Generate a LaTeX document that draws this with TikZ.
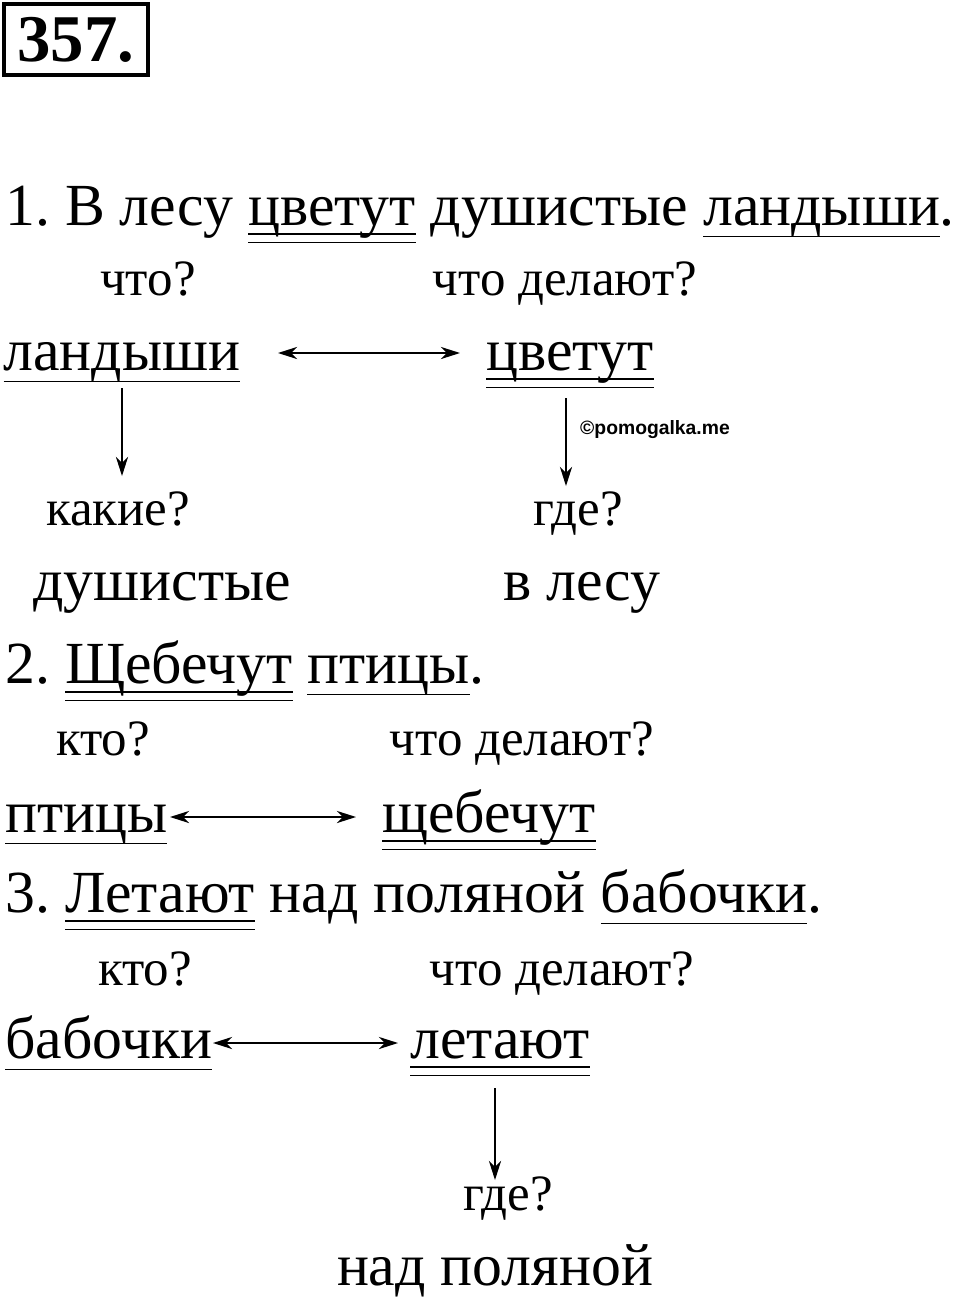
\documentclass[tikz,border=0pt]{standalone}
\usepackage{fontspec}
\setmainfont{Liberation Serif}
\newfontfamily\markfont{Liberation Sans}
\usetikzlibrary{arrows.meta}
\tikzset{
  big/.style={font=\fontsize{34}{38}\selectfont, inner sep=0pt, anchor=base},
  ask/.style={font=\fontsize{29}{32}\selectfont, inner sep=0pt, anchor=base},
  link/.style={-{Stealth[length=11pt,width=7pt]}, line width=0.8pt},
  both/.style={{Stealth[length=11pt,width=7pt]}-{Stealth[length=11pt,width=7pt]}, line width=0.8pt}
}
\newcommand{\subj}[1]{\setbox0\hbox{#1}\rlap{\rule[-0.2em]{\wd0}{0.8pt}}\box0\relax}
\newcommand{\verbw}[1]{\setbox0\hbox{#1}\rlap{\rule[-0.16em]{\wd0}{0.8pt}}\rlap{\rule[-0.3em]{\wd0}{0.8pt}}\box0\relax}
\begin{document}
\frenchspacing
\begin{tikzpicture}[x=0.02cm,y=-0.02cm]
  \useasboundingbox (0,0) rectangle (960,1299);
  % number
  \draw[line width=2.5pt] (4,4) rectangle (148,75);
  \node (num) at (76,40) [font=\bfseries\fontsize{38}{40}\selectfont, inner sep=0pt] {357.};

  % sentence 1
  \node (s1) at (5,225) [big, anchor=base west] {1. В лесу \verbw{цветут} душистые \subj{ландыши}.};
  \node (q1) at (148,295) [ask] {что?};
  \node (q2) at (565,295) [ask] {что делают?};
  \node (w1) at (122,370) [big] {\subj{ландыши}};
  \node (w2) at (570,370) [big] {\verbw{цветут}};
  \coordinate (a1) at (278,353);
  \coordinate (a2) at (460,353);
  \draw[both] (a1) -- (a2);
  \coordinate (d1) at (122,388);
  \coordinate (d2) at (122,476);
  \draw[link] (d1) -- (d2);
  \coordinate (d3) at (566,398);
  \coordinate (d4) at (566,486);
  \draw[link] (d3) -- (d4);
  \node (mark) at (655,430) [font=\markfont\bfseries\fontsize{11}{12}\selectfont, inner sep=0pt] {©pomogalka.me};
  \node (q3) at (118,525) [ask] {какие?};
  \node (q4) at (578,525) [ask] {где?};
  \node (w3) at (162,600) [big] {душистые};
  \node (w4) at (582,600) [big] {в лесу};

  % sentence 2
  \node (s2) at (5,683) [big, anchor=base west] {2. \verbw{Щебечут} \subj{птицы}.};
  \node (q5) at (103,755) [ask] {кто?};
  \node (q6) at (522,755) [ask] {что делают?};
  \node (w5) at (5,832) [big, anchor=base west] {\subj{птицы}};
  \node (w6) at (489,832) [big] {\verbw{щебечут}};
  \coordinate (b1) at (170,817);
  \coordinate (b2) at (356,817);
  \draw[both] (b1) -- (b2);

  % sentence 3
  \node (s3) at (5,912) [big, anchor=base west] {3. \verbw{Летают} над поляной \subj{бабочки}.};
  \node (q7) at (145,985) [ask] {кто?};
  \node (q8) at (562,985) [ask] {что делают?};
  \node (w7) at (5,1058) [big, anchor=base west] {\subj{бабочки}};
  \node (w8) at (500,1058) [big] {\verbw{летают}};
  \coordinate (c1) at (213,1043);
  \coordinate (c2) at (398,1043);
  \draw[both] (c1) -- (c2);
  \coordinate (d5) at (495,1088);
  \coordinate (d6) at (495,1180);
  \draw[link] (d5) -- (d6);
  \node (q9) at (508,1210) [ask] {где?};
  \node (w9) at (495,1285) [big] {над поляной};
\end{tikzpicture}
\end{document}
